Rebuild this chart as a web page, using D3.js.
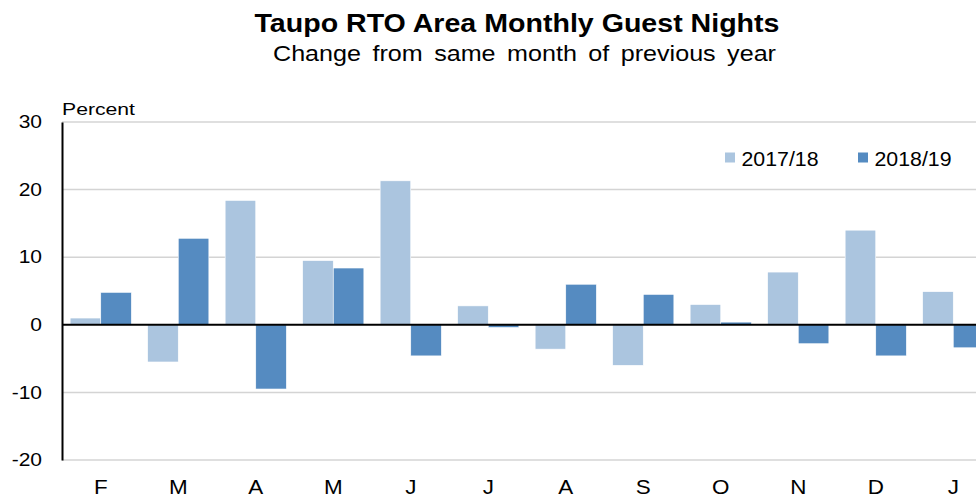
<!DOCTYPE html>
<html>
<head>
<meta charset="utf-8">
<script src="https://cdn.jsdelivr.net/npm/d3@7"></script>
<style>
  body { margin: 0; background: #fff; }
  svg { display: block; font-family: 'Liberation Sans', Arial, sans-serif; }
</style>
</head>
<body>
<div class="container"></div>
<script>
var months = ['F', 'M', 'A', 'M', 'J', 'J', 'A', 'S', 'O', 'N', 'D', 'J']
var series = ['2017/18', '2018/19']
var values1718 = [1.0, -5.5, 18.4, 9.5, 21.3, 2.8, -3.6, -6.0, 3.0, 7.8, 14.0, 4.9]
var values1819 = [4.8, 12.8, -9.5, 8.4, -4.6, -0.4, 6.0, 4.5, 0.4, -2.8, -4.6, -3.4]
var yTicks = [-20, -10, 0, 10, 20, 30]
var colors = ['#abc5df', '#558bc1']

var width = 976, height = 500
var font = "'Liberation Sans', Arial, sans-serif"

var svg = d3.select('.container').append('svg')
  .attr('width', width)
  .attr('height', height)

var x = d3.scaleBand()
  .domain(d3.range(months.length))
  .range([62, 992])
  .paddingInner(0.21)
  .paddingOuter(0.105)

var xs = d3.scaleBand().domain(series).range([0, x.bandwidth()])

var y = d3.scaleLinear().domain([-20, 30]).range([460, 122])

// titles (the source chart is stretched a little sideways)
svg.append('text')
  .attr('x', 517).attr('y', 31.5)
  .attr('text-anchor', 'middle')
  .attr('font-size', 26.5).attr('font-weight', 'bold')
  .attr('textLength', 525).attr('lengthAdjust', 'spacingAndGlyphs')
  .text('Taupo RTO Area Monthly Guest Nights')

svg.append('text')
  .attr('x', 524.5).attr('y', 61)
  .attr('text-anchor', 'middle')
  .attr('font-size', 22.5)
  .attr('word-spacing', 4)
  .attr('textLength', 503).attr('lengthAdjust', 'spacingAndGlyphs')
  .text('Change from same month of previous year')

svg.append('text')
  .attr('x', 62).attr('y', 115)
  .attr('font-size', 17)
  .attr('textLength', 73).attr('lengthAdjust', 'spacingAndGlyphs')
  .text('Percent')

// gridlines
svg.append('g')
  .selectAll('line')
  .data(yTicks.filter(d => d != 0))
  .join('line')
  .attr('x1', 62).attr('x2', width)
  .attr('y1', d => y(d)).attr('y2', d => y(d))
  .attr('stroke', '#d4d4d4')
  .attr('stroke-width', 1.5)

// y axis
var yAxis = d3.axisLeft(y).tickValues(yTicks).tickSize(0).tickFormat(d => String(d))
svg.append('g')
  .attr('transform', 'translate(62,0)')
  .call(yAxis)
  .call(g => g.select('.domain').attr('stroke', '#000').attr('stroke-width', 2))
  .call(g => g.selectAll('text')
    .attr('x', 0)
    .attr('transform', 'translate(-20,0) scale(1.2,1)')
    .attr('font-size', 17.5).attr('fill', '#000').attr('font-family', font))

// bars
var rows = months.map((m, i) => ({i, vals: [values1718[i], values1819[i]]}))

var groups = svg.append('g').selectAll('g')
  .data(rows)
  .join('g')
  .attr('transform', d => `translate(${x(d.i)},0)`)

groups.selectAll('rect')
  .data(d => series.map((s, k) => ({s, k, v: d.vals[k]})))
  .join('rect')
  .attr('x', d => xs(d.s))
  .attr('width', xs.bandwidth())
  .attr('y', d => y(Math.max(0, d.v)))
  .attr('height', d => Math.abs(y(d.v) - y(0)))
  .attr('fill', d => colors[d.k])
  .attr('stroke', '#fff')
  .attr('stroke-width', 0.6)

// zero line
svg.append('line')
  .attr('x1', 62).attr('x2', width)
  .attr('y1', y(0)).attr('y2', y(0))
  .attr('stroke', '#000').attr('stroke-width', 2)

// x axis labels
var xAxis = d3.axisBottom(x).tickFormat(i => months[i]).tickSize(0)
svg.append('g')
  .attr('transform', `translate(0,${y(-20)})`)
  .call(xAxis)
  .call(g => g.select('.domain').remove())
  .call(g => g.selectAll('text')
    .attr('y', 0).attr('dy', 0)
    .attr('transform', 'translate(0,34) scale(1.15,1)')
    .attr('font-size', 19.5).attr('fill', '#000').attr('font-family', font))

// legend
var legend = svg.append('g').selectAll('g')
  .data(series)
  .join('g')
  .attr('transform', (d, i) => `translate(${[725, 858][i]},152.5)`)

legend.append('rect')
  .attr('width', 10).attr('height', 10)
  .attr('fill', (d, i) => colors[i])

legend.append('text')
  .attr('x', 16.5).attr('y', 13.5)
  .attr('font-size', 20)
  .attr('textLength', 77).attr('lengthAdjust', 'spacingAndGlyphs')
  .text(d => d)
</script>
</body>
</html>
